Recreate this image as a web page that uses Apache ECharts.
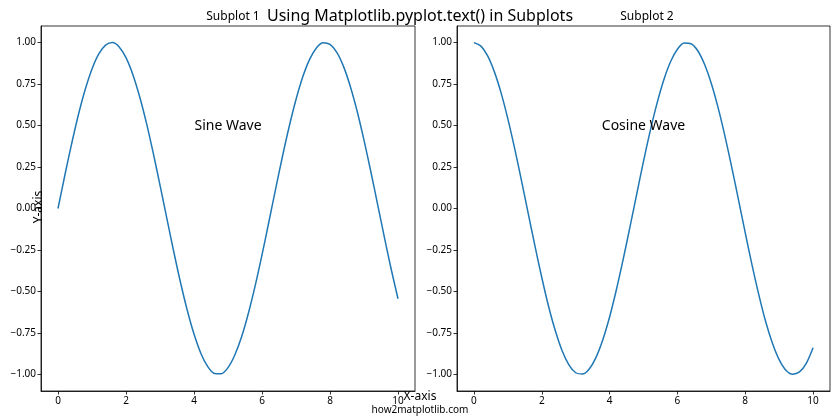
<!DOCTYPE html>
<html>
<head>
<meta charset="utf-8">
<script src="https://cdn.jsdelivr.net/npm/echarts@6/dist/echarts.min.js"></script>
<style>html,body{margin:0;padding:0;background:#fff;}#c{width:840px;height:420px;}</style>
</head>
<body>
<div id="c"></div>
<script>
const xValues = [0,0.2,0.4,0.6,0.8,1.0,1.2,1.4,1.6,1.8,2.0,2.2,2.4,2.6,2.8,3.0,3.2,3.4,3.6,3.8,4.0,4.2,4.4,4.6,4.8,5.0,5.2,5.4,5.6,5.8,6.0,6.2,6.4,6.6,6.8,7.0,7.2,7.4,7.6,7.8,8.0,8.2,8.4,8.6,8.8,9.0,9.2,9.4,9.6,9.8,10.0];
const sineValues = [0,0.199,0.389,0.565,0.717,0.841,0.932,0.985,1.000,0.974,0.909,0.808,0.675,0.516,0.335,0.141,-0.058,-0.256,-0.443,-0.612,-0.757,-0.872,-0.952,-0.994,-0.996,-0.959,-0.883,-0.773,-0.631,-0.465,-0.279,-0.083,0.117,0.312,0.494,0.657,0.794,0.899,0.968,0.999,0.989,0.941,0.855,0.734,0.585,0.412,0.223,0.025,-0.174,-0.366,-0.544];
const cosineValues = [1.000,0.980,0.921,0.825,0.697,0.540,0.362,0.170,-0.029,-0.227,-0.416,-0.589,-0.737,-0.857,-0.942,-0.990,-0.998,-0.967,-0.897,-0.791,-0.654,-0.490,-0.307,-0.112,0.087,0.284,0.469,0.635,0.776,0.886,0.960,0.997,0.993,0.951,0.869,0.754,0.608,0.438,0.251,0.054,-0.146,-0.340,-0.519,-0.680,-0.811,-0.911,-0.975,-0.999,-0.985,-0.933,-0.839];
const xTicks = [0,2,4,6,8,10];
const yTicks = [-1,-0.75,-0.5,-0.25,0,0.25,0.5,0.75,1];
const subplotTitles = ['Subplot 1','Subplot 2'];
const waveLabels = ['Sine Wave','Cosine Wave'];
const mainTitle = 'Using Matplotlib.pyplot.text() in Subplots';

const FONT = 'Noto Sans';
const chart = echarts.init(document.getElementById('c'), null, {renderer:'canvas'});

function pairs(ys){ return xValues.map((x,i)=>[x, ys[i]]); }
function fmtY(v){ const s = Math.abs(v).toFixed(2); return (v < 0 ? '\u2212' : '') + s; }

const xAxisBase = (gi)=>({
  type:'value', gridIndex:gi, min:-0.5, max:10.5,
  axisLine:{show:true, onZero:false, lineStyle:{color:'#000', width:0.8}},
  axisTick:{show:true, length:3.5, inside:false, customValues:xTicks, lineStyle:{color:'#000', width:0.8}},
  axisLabel:{customValues:xTicks, color:'#000', fontSize:10, fontFamily:FONT, margin:5, formatter:v=>String(v)},
  splitLine:{show:false}
});
const yAxisBase = (gi)=>({
  type:'value', gridIndex:gi, min:-1.1, max:1.1,
  axisLine:{show:true, onZero:false, lineStyle:{color:'#000', width:0.8}},
  axisTick:{show:true, length:3.5, inside:false, customValues:yTicks, lineStyle:{color:'#000', width:0.8}},
  axisLabel:{customValues:yTicks, color:'#000', fontSize:10, fontFamily:FONT, margin:5, formatter:fmtY},
  splitLine:{show:false}
});

const lineSeries = (gi, ys, label)=>({
  type:'line', xAxisIndex:gi, yAxisIndex:gi, data:pairs(ys), smooth:0.3,
  showSymbol:false, symbol:'none', animation:false,
  lineStyle:{color:'#1f77b4', width:1.5},
  markPoint:{
    symbol:'circle', symbolSize:0, animation:false,
    label:{show:true, position:'inside', formatter:label, color:'#000', fontSize:14, fontFamily:FONT},
    data:[{coord:[5,0.5]}]
  }
});

chart.setOption({
  animation:false,
  backgroundColor:'#fff',
  title:[
    {text:mainTitle, left:'center', top:3, textStyle:{fontSize:16, fontWeight:'normal', color:'#000', fontFamily:FONT}},
    {text:subplotTitles[0], left:228, top:6, textAlign:'center', textStyle:{fontSize:12, fontWeight:'normal', color:'#000', fontFamily:FONT}},
    {text:subplotTitles[1], left:642, top:6, textAlign:'center', textStyle:{fontSize:12, fontWeight:'normal', color:'#000', fontFamily:FONT}}
  ],
  grid:[
    {left:41, top:26, width:374, bottom:29, show:true, borderColor:'#000', borderWidth:0.8, backgroundColor:'transparent'},
    {left:457, top:26, right:10, bottom:29, show:true, borderColor:'#000', borderWidth:0.8, backgroundColor:'transparent'}
  ],
  xAxis:[xAxisBase(0), xAxisBase(1)],
  yAxis:[yAxisBase(0), yAxisBase(1)],
  series:[lineSeries(0, sineValues, waveLabels[0]), lineSeries(1, cosineValues, waveLabels[1])],
  graphic:[
    {type:'text', left:'center', top:391, z:100, style:{text:'X-axis', fontSize:12, fontFamily:FONT, fill:'#000'}},
    {type:'text', left:'center', top:405, z:100, style:{text:'how2matplotlib.com', fontSize:10, fontFamily:FONT, fill:'#000'}},
    {type:'text', x:39, y:207, rotation:Math.PI/2, z:100, style:{text:'Y-axis', fontSize:12, fontFamily:FONT, fill:'#000', align:'center', verticalAlign:'middle'}}
  ]
});
</script>
</body>
</html>
